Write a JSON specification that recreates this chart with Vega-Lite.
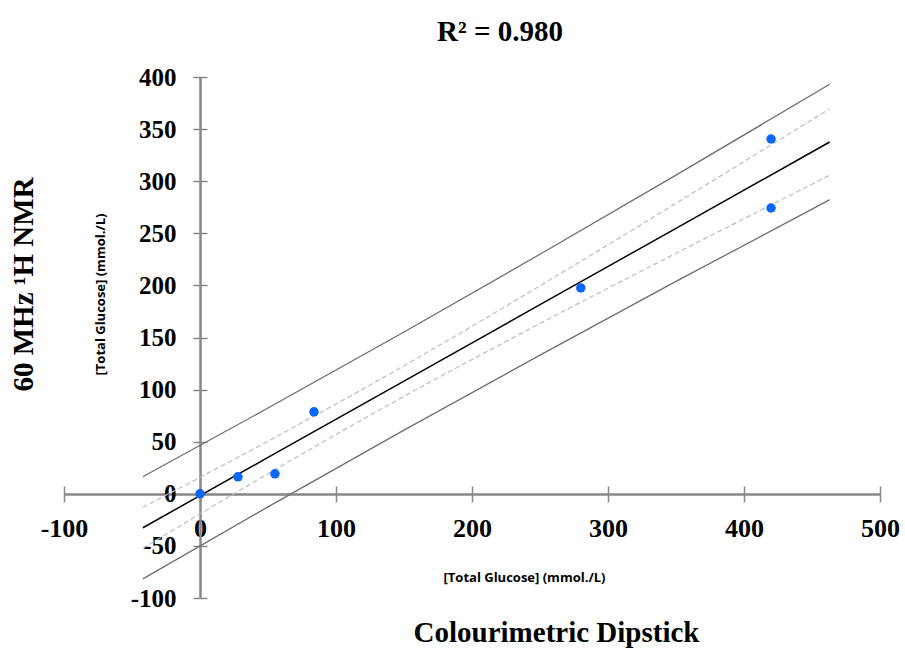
{
  "$schema": "https://vega.github.io/schema/vega-lite/v6.json",
  "width": 816,
  "height": 521,
  "autosize": {"type": "none"},
  "padding": {"left": 64, "top": 77, "right": 25, "bottom": 52},
  "background": "white",
  "title": {
    "text": "R² = 0.980",
    "font": "Liberation Serif",
    "fontSize": 29,
    "fontWeight": "bold",
    "color": "black",
    "anchor": "middle",
    "frame": "group",
    "baseline": "alphabetic",
    "dx": 28,
    "offset": -5
  },
  "config": {
    "view": {"stroke": null},
    "axis": {"grid": false, "domainColor": "#888888", "domainWidth": 2, "tickColor": "#888888", "tickWidth": 1.5,
             "labelFont": "Liberation Serif", "labelFontSize": 25, "labelFontWeight": "bold", "labelColor": "black",
             "labelOverlap": false, "labelFlush": false, "titleColor": "black"}
  },
  "datasets": {
    "pts": [
      {"dipstick": 0, "nmr": 0},
      {"dipstick": 27.9, "nmr": 16.3},
      {"dipstick": 55.1, "nmr": 19.2},
      {"dipstick": 83.8, "nmr": 78.7},
      {"dipstick": 280, "nmr": 197.6},
      {"dipstick": 419.9, "nmr": 340.5},
      {"dipstick": 419.9, "nmr": 274.3}
    ],
    "bands": [
      {"x": -42, "fit": -32.6, "ciLow": -52.3, "ciHigh": -12.9, "piLow": -81.6, "piHigh": 16.4},
      {"x": 50, "fit": 34.9, "ciLow": 19.3, "ciHigh": 50.5, "piLow": -12.5, "piHigh": 82.3},
      {"x": 150, "fit": 108.2, "ciLow": 93.5, "ciHigh": 122.9, "piLow": 61.1, "piHigh": 155.3},
      {"x": 250, "fit": 181.5, "ciLow": 163.4, "ciHigh": 199.6, "piLow": 133.1, "piHigh": 229.9},
      {"x": 350, "fit": 254.8, "ciLow": 230.8, "ciHigh": 278.8, "piLow": 203.8, "piHigh": 305.8},
      {"x": 463, "fit": 337.6, "ciLow": 305.7, "ciHigh": 369.5, "piLow": 282.2, "piHigh": 393.0}
    ]
  },
  "layer": [
    {
      "data": {"name": "bands"},
      "mark": {"type": "line", "color": "#6e6e6e", "strokeWidth": 1.3, "interpolate": "monotone"},
      "encoding": {
        "x": {"field": "x", "type": "quantitative", "scale": {"domain": [-100, 500], "nice": false, "zero": false},
              "axis": {"orient": "bottom", "offset": -104, "values": [-100, 0, 100, 200, 300, 400, 500],
                       "labelExpr": "datum.value + ''",
                       "tickSize": 8, "labelBaseline": "middle", "labelPadding": 26, "labelFontSize": 26,
                       "title": "[Total Glucose] (mmol./L)", "titleFont": "Open Sans", "titleFontSize": 13, "titleFontWeight": "bold",
                       "titleX": 460, "titleY": 83, "titleBaseline": "middle", "titleAlign": "center", "titleAngle": 0}},
        "y": {"field": "piHigh", "type": "quantitative", "scale": {"domain": [-100, 400], "nice": false, "zero": false},
              "axis": {"orient": "left", "offset": -136, "values": [-100, -50, 0, 50, 100, 150, 200, 250, 300, 350, 400],
                       "labelExpr": "datum.value + ''",
                       "tickSize": 7, "labelBaseline": "middle", "labelPadding": 17,
                       "title": "[Total Glucose] (mmol./L)", "titleFont": "Open Sans", "titleFontSize": 13, "titleFontWeight": "bold",
                       "titleX": -100, "titleY": 217, "titleBaseline": "middle", "titleAlign": "center", "titleAngle": -90}}
      }
    },
    {
      "data": {"name": "bands"},
      "mark": {"type": "line", "color": "#6e6e6e", "strokeWidth": 1.3, "interpolate": "monotone"},
      "encoding": {
        "x": {"field": "x", "type": "quantitative", "scale": {"domain": [-100, 500], "nice": false, "zero": false},
              "axis": {"orient": "top", "offset": -417, "values": [-100, 0, 100, 200, 300, 400, 500],
                       "tickSize": 8, "labels": false,
                       "title": "Colourimetric Dipstick", "titleFont": "Liberation Serif", "titleFontSize": 29, "titleFontWeight": "bold",
                       "titleX": 492, "titleY": 147, "titleBaseline": "alphabetic", "titleAlign": "center", "titleAngle": 0}},
        "y": {"field": "piLow", "type": "quantitative", "scale": {"domain": [-100, 400], "nice": false, "zero": false},
              "axis": {"orient": "right", "offset": -680, "values": [-100, -50, 0, 50, 100, 150, 200, 250, 300, 350, 400],
                       "tickSize": 7, "labels": false,
                       "title": "60 MHz ¹H NMR", "titleFont": "Liberation Serif", "titleFontSize": 29, "titleFontWeight": "bold",
                       "titleX": -177, "titleY": 207, "titleBaseline": "middle", "titleAlign": "center", "titleAngle": -90}}
      }
    },
    {
      "data": {"name": "bands"},
      "mark": {"type": "line", "color": "#bdbdbd", "strokeWidth": 1.2, "strokeDash": [5, 3], "interpolate": "monotone"},
      "encoding": {
        "x": {"field": "x", "type": "quantitative", "scale": {"domain": [-100, 500], "nice": false, "zero": false}, "axis": null},
        "y": {"field": "ciHigh", "type": "quantitative", "scale": {"domain": [-100, 400], "nice": false, "zero": false}, "axis": null}
      }
    },
    {
      "data": {"name": "bands"},
      "mark": {"type": "line", "color": "#bdbdbd", "strokeWidth": 1.2, "strokeDash": [5, 3], "interpolate": "monotone"},
      "encoding": {
        "x": {"field": "x", "type": "quantitative", "scale": {"domain": [-100, 500], "nice": false, "zero": false}, "axis": null},
        "y": {"field": "ciLow", "type": "quantitative", "scale": {"domain": [-100, 400], "nice": false, "zero": false}, "axis": null}
      }
    },
    {
      "data": {"name": "bands"},
      "mark": {"type": "line", "color": "black", "strokeWidth": 1.5},
      "encoding": {
        "x": {"field": "x", "type": "quantitative", "scale": {"domain": [-100, 500], "nice": false, "zero": false}, "axis": null},
        "y": {"field": "fit", "type": "quantitative", "scale": {"domain": [-100, 400], "nice": false, "zero": false}, "axis": null}
      }
    },
    {
      "data": {"name": "pts"},
      "mark": {"type": "circle", "color": "#0a66ff", "size": 90, "opacity": 1},
      "encoding": {
        "x": {"field": "dipstick", "type": "quantitative", "scale": {"domain": [-100, 500], "nice": false, "zero": false}, "axis": null},
        "y": {"field": "nmr", "type": "quantitative", "scale": {"domain": [-100, 400], "nice": false, "zero": false}, "axis": null}
      }
    }
  ],
  "resolve": {"axis": {"x": "independent", "y": "independent"}}
}
